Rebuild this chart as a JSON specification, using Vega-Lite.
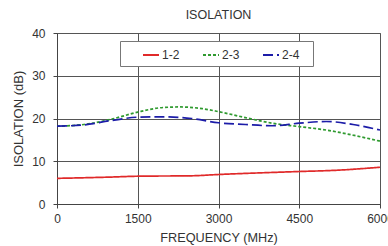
{
  "$schema": "https://vega.github.io/schema/vega-lite/v6.json",
  "autosize": "none",
  "width": 323,
  "height": 171,
  "padding": {"left": 57, "top": 33, "right": 8, "bottom": 42},
  "background": "white",
  "title": {"text": "ISOLATION", "font": "Liberation Sans", "fontSize": 12.5, "fontWeight": "normal", "color": "#333", "offset": 6, "anchor": "middle"},
  "config": {
    "view": {"stroke": "#888", "strokeWidth": 1},
    "font": "Liberation Sans"
  },
  "data": {"values": [
    {"f": 0, "v": 6.0, "s": "1-2"},
    {"f": 1000, "v": 6.3, "s": "1-2"},
    {"f": 1500, "v": 6.5, "s": "1-2"},
    {"f": 2500, "v": 6.6, "s": "1-2"},
    {"f": 3000, "v": 6.9, "s": "1-2"},
    {"f": 4500, "v": 7.6, "s": "1-2"},
    {"f": 5200, "v": 7.9, "s": "1-2"},
    {"f": 6000, "v": 8.6, "s": "1-2"},
    {"f": 0, "v": 18.2, "s": "2-3"},
    {"f": 500, "v": 18.6, "s": "2-3"},
    {"f": 1000, "v": 19.8, "s": "2-3"},
    {"f": 1500, "v": 21.5, "s": "2-3"},
    {"f": 2000, "v": 22.6, "s": "2-3"},
    {"f": 2300, "v": 22.7, "s": "2-3"},
    {"f": 2700, "v": 22.3, "s": "2-3"},
    {"f": 3000, "v": 21.6, "s": "2-3"},
    {"f": 3500, "v": 20.2, "s": "2-3"},
    {"f": 4000, "v": 18.9, "s": "2-3"},
    {"f": 4500, "v": 18.1, "s": "2-3"},
    {"f": 5000, "v": 17.3, "s": "2-3"},
    {"f": 5500, "v": 16.1, "s": "2-3"},
    {"f": 6000, "v": 14.7, "s": "2-3"},
    {"f": 0, "v": 18.2, "s": "2-4"},
    {"f": 500, "v": 18.5, "s": "2-4"},
    {"f": 1000, "v": 19.5, "s": "2-4"},
    {"f": 1500, "v": 20.3, "s": "2-4"},
    {"f": 2000, "v": 20.4, "s": "2-4"},
    {"f": 2500, "v": 20.0, "s": "2-4"},
    {"f": 3000, "v": 19.0, "s": "2-4"},
    {"f": 3500, "v": 18.6, "s": "2-4"},
    {"f": 4000, "v": 18.3, "s": "2-4"},
    {"f": 4500, "v": 18.9, "s": "2-4"},
    {"f": 5000, "v": 19.3, "s": "2-4"},
    {"f": 5500, "v": 18.6, "s": "2-4"},
    {"f": 6000, "v": 17.3, "s": "2-4"}
  ]},
  "mark": {"type": "line", "interpolate": "monotone", "strokeWidth": 1.7},
  "encoding": {
    "x": {"field": "f", "type": "quantitative",
      "scale": {"domain": [0, 6000], "nice": false},
      "axis": {"values": [0, 1500, 3000, 4500, 6000], "format": "d", "title": "FREQUENCY (MHz)", "titleFont": "Liberation Sans", "titleFontSize": 12.7, "titleFontWeight": "normal", "titleColor": "#333", "titlePadding": 7,
        "labelFontSize": 12, "labelColor": "#333", "labelPadding": 5, "tickSize": 4, "tickColor": "#444", "domainColor": "#444", "gridColor": "#555", "gridWidth": 1, "labelFlush": false}},
    "y": {"field": "v", "type": "quantitative",
      "scale": {"domain": [0, 40], "nice": false},
      "axis": {"values": [0, 10, 20, 30, 40], "title": "ISOLATION (dB)", "titleFont": "Liberation Sans", "titleFontSize": 13, "titleFontWeight": "normal", "titleColor": "#333", "titlePadding": 6,
        "labelFontSize": 12, "labelColor": "#333", "labelPadding": 8, "tickSize": 4, "tickColor": "#444", "domainColor": "#444", "gridColor": "#555", "gridWidth": 1}},
    "color": {"field": "s", "type": "nominal",
      "scale": {"domain": ["1-2", "2-3", "2-4"], "range": ["#e02a2a", "#2f9a2f", "#1c1ca8"]},
      "legend": {"title": " ", "titleOrient": "right", "titlePadding": 9, "titleFontSize": 12, "orient": "none", "legendX": 63, "legendY": 8, "direction": "horizontal",
        "fillColor": "white", "strokeColor": "#777", "padding": 5, "labelFontSize": 12, "labelColor": "#333",
        "symbolType": "stroke", "symbolSize": 256, "symbolStrokeWidth": 2, "symbolOffset": 17, "columnPadding": 5, "labelOffset": 2}},
    "strokeDash": {"field": "s", "type": "nominal",
      "scale": {"domain": ["1-2", "2-3", "2-4"], "range": [[1, 0], [3, 2], [10, 4]]},
      "legend": null}
  }
}
